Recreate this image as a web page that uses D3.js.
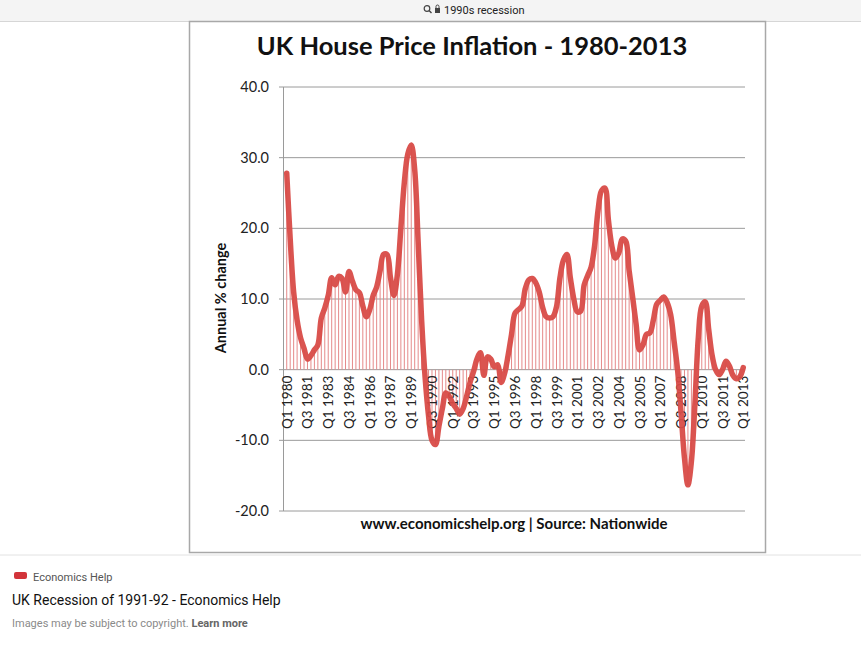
<!DOCTYPE html>
<html>
<head>
<meta charset="utf-8">
<script src="https://cdn.jsdelivr.net/npm/d3@7"></script>
<style>
  html, body { margin: 0; padding: 0; background: #fff; }
  svg { display: block; }
</style>
</head>
<body>
<script>
// dati: variazione annua % per trimestre (Nationwide)
var values1980s = [27.8, 18.5, 11.0, 7.0, 4.5, 3.0, 1.5, 2.0, 2.8, 3.5,
                   7.3, 8.7, 10.5, 13.0, 12.0, 13.2, 12.9, 11.0, 13.9, 12.5,
                   11.3, 10.9, 9.0, 7.5, 8.5, 10.5, 11.7, 14.0, 16.3, 16.3,
                   13.0, 10.5, 13.5, 20.0, 26.5, 30.5, 31.8, 28.3, 18.0, 7.0];
var values1990s = [-1.0, -6.5, -10.0, -10.6, -8.0, -5.5, -3.3, -3.8, -4.8, -5.5,
                   -6.3, -5.5, -3.8, -1.8, -0.3, 1.5, 2.4, -0.8, 1.8, 1.5,
                   0.4, 0.7, -1.8, -0.5, 2.0, 5.0, 8.0, 8.5, 9.0, 11.5,
                   12.7, 12.9, 12.3, 11.0, 8.8, 7.5, 7.3, 7.5, 8.9, 13.0];
var values2000s = [15.5, 16.3, 13.0, 10.0, 8.2, 8.3, 12.0, 13.3, 14.5, 17.5,
                   22.5, 25.3, 25.7, 21.2, 17.5, 15.8, 16.5, 18.5, 18.2, 14.0,
                   10.3, 6.5, 2.8, 3.5, 5.0, 5.2, 7.0, 9.3, 9.8, 10.3,
                   9.5, 7.8, 4.0, 0.0, -6.0, -12.5, -16.3, -13.0, -5.0, 4.5];
var values2010s = [9.0, 9.6, 5.7, 2.0, 0.0, -0.7, 0.0, 1.2, 0.5, -0.8,
                   -1.3, -1.0, 0.3];

var tickLabels = ["Q1 1980", "Q3 1981", "Q1 1983", "Q3 1984", "Q1 1986", "Q3 1987",
                  "Q1 1989", "Q3 1990", "Q1 1992", "Q3 1993", "Q1 1995", "Q3 1996",
                  "Q1 1998", "Q3 1999", "Q1 2001", "Q3 2002", "Q1 2004", "Q3 2005",
                  "Q1 2007", "Q3 2008", "Q1 2010", "Q3 2011", "Q1 2013"];
var yTicks = [-20, -10, 0, 10, 20, 30, 40];

var values = values1980s.concat(values1990s, values2000s, values2010s);
// categorie trimestrali Q1 1980 ... Q1 2013
var categories = values.map(function (v, i) {
    return "Q" + (i % 4 + 1) + " " + (1980 + Math.floor(i / 4));
});
var data = categories.map(function (c, i) { return { q: c, v: values[i] }; });

var W = 861, H = 645;
var svg = d3.select("body").append("svg").attr("width", W).attr("height", H);

// barra di ricerca in alto
svg.append("rect").attr("x", 0).attr("y", 0).attr("width", W).attr("height", 21).attr("fill", "#f4f4f4");
svg.append("line").attr("x1", 0).attr("x2", W).attr("y1", 21.5).attr("y2", 21.5).attr("stroke", "#d6d6d6");
svg.append("circle").attr("cx", 427).attr("cy", 8.5).attr("r", 2.8).attr("fill", "none").attr("stroke", "#444").attr("stroke-width", 1.2);
svg.append("line").attr("x1", 429).attr("y1", 10.5).attr("x2", 431.5).attr("y2", 13).attr("stroke", "#444").attr("stroke-width", 1.4);
svg.append("rect").attr("x", 435).attr("y", 8).attr("width", 5).attr("height", 5).attr("fill", "#444");
svg.append("path").attr("d", "M436,8 v-1.5 a1.5,1.5 0 0 1 3,0 v1.5").attr("fill", "none").attr("stroke", "#444").attr("stroke-width", 1);
svg.append("text").attr("x", 444).attr("y", 14).text("1990s recession")
    .attr("font-family", "Roboto, 'Liberation Sans', sans-serif").attr("font-size", 11).attr("fill", "#222");

// cornice dell'immagine
svg.append("rect").attr("x", 189.5).attr("y", 21.5).attr("width", 576).attr("height", 531)
    .attr("fill", "#fff").attr("stroke", "#a8a8a8").attr("stroke-width", 1.5);
svg.append("line").attr("x1", 0).attr("x2", W).attr("y1", 555).attr("y2", 555).attr("stroke", "#e2e2e2");

// titolo
svg.append("text").attr("x", 472).attr("y", 55).attr("text-anchor", "middle")
    .text("UK House Price Inflation - 1980-2013")
    .attr("font-family", "Lato, 'Open Sans', sans-serif").attr("font-weight", 700)
    .attr("font-size", 25.5).attr("fill", "#111");

// scale
var x = d3.scaleBand().domain(categories).range([285, 745]);
var y = d3.scaleLinear().domain([-20, 40]).range([511, 87]);
function cx(d) { return x(d.q) + x.bandwidth() / 2; }

// griglia orizzontale
svg.append("g").selectAll("line").data(yTicks).enter().append("line")
    .attr("x1", 279).attr("x2", 745)
    .attr("y1", function (d) { return y(d); }).attr("y2", function (d) { return y(d); })
    .attr("stroke", "#9a9a9a").attr("stroke-width", 1);

// asse y
svg.append("line").attr("x1", 283.5).attr("x2", 283.5).attr("y1", y(40)).attr("y2", y(-20))
    .attr("stroke", "#9a9a9a");
svg.append("g").selectAll("text").data(yTicks).enter().append("text")
    .attr("x", 269).attr("y", function (d) { return y(d) + 5; })
    .attr("text-anchor", "end")
    .text(function (d) { return d.toFixed(1); })
    .attr("font-family", "Lato, 'Open Sans', sans-serif").attr("font-size", 14.5).attr("fill", "#222");

svg.append("text").attr("transform", "translate(226,298) rotate(-90)")
    .attr("text-anchor", "middle").text("Annual % change")
    .attr("font-family", "Lato, 'Open Sans', sans-serif").attr("font-weight", 700)
    .attr("font-size", 14.5).attr("fill", "#111");

// linee verticali fino allo zero
svg.append("g").selectAll("line").data(data).enter().append("line")
    .attr("x1", cx).attr("x2", cx)
    .attr("y1", y(0)).attr("y2", function (d) { return y(d.v); })
    .attr("stroke", "#e58a8a").attr("stroke-width", 1);

// etichette asse x
svg.append("g").selectAll("text").data(tickLabels).enter().append("text")
    .attr("transform", function (d) {
        return "translate(" + (x(d) + x.bandwidth() / 2 + 5) + "," + (y(0) + 6) + ") rotate(-90)";
    })
    .attr("text-anchor", "end")
    .text(function (d) { return d; })
    .attr("font-family", "Lato, 'Open Sans', sans-serif").attr("font-size", 13.5).attr("fill", "#222");

// linea principale
var line = d3.line().x(cx).y(function (d) { return y(d.v); }).curve(d3.curveCatmullRom.alpha(0.5));
svg.append("path").datum(data).attr("d", line)
    .attr("fill", "none").attr("stroke", "#d84b47").attr("stroke-width", 5.5)
    .attr("stroke-linejoin", "round").attr("stroke-linecap", "round").attr("opacity", 0.95);

// fonte
svg.append("text").attr("x", 514).attr("y", 529).attr("text-anchor", "middle")
    .text("www.economicshelp.org | Source: Nationwide")
    .attr("font-family", "Lato, 'Open Sans', sans-serif").attr("font-weight", 700)
    .attr("font-size", 15).attr("fill", "#111");

// didascalia in basso
svg.append("rect").attr("x", 14).attr("y", 572).attr("width", 13).attr("height", 7).attr("rx", 2).attr("fill", "#d2343a");
svg.append("text").attr("x", 33).attr("y", 581).text("Economics Help")
    .attr("font-family", "Roboto, 'Liberation Sans', sans-serif").attr("font-size", 11).attr("fill", "#555");
svg.append("text").attr("x", 12).attr("y", 605).text("UK Recession of 1991-92 - Economics Help")
    .attr("font-family", "Roboto, 'Liberation Sans', sans-serif").attr("font-size", 14).attr("fill", "#111");
var cap = svg.append("text").attr("x", 12).attr("y", 627)
    .attr("font-family", "Roboto, 'Liberation Sans', sans-serif").attr("font-size", 11);
cap.append("tspan").text("Images may be subject to copyright. ").attr("fill", "#8a8a8a");
cap.append("tspan").text("Learn more").attr("fill", "#666").attr("font-weight", 700);
</script>
</body>
</html>
